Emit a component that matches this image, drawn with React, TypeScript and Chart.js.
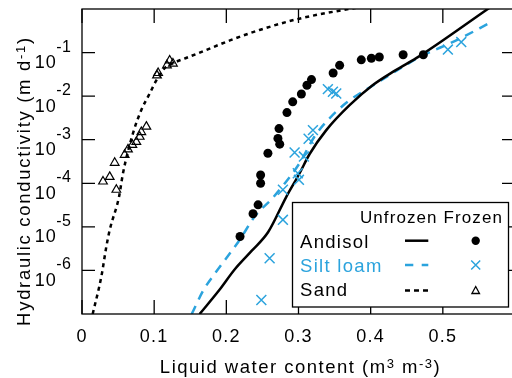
import React, { useEffect, useRef } from 'react';
import { Chart, registerables } from 'chart.js';

Chart.register(...registerables);

// ---- axis ticks ----
const xTickValues = [0, 0.1, 0.2, 0.3, 0.4, 0.5, 0.6];
const xTickLabels = ['0', '0.1', '0.2', '0.3', '0.4', '0.5', ''];
const yTickValues = [1e-6, 1e-5, 1e-4, 1e-3, 1e-2, 1e-1];
const yTickExponents = ['-6', '-5', '-4', '-3', '-2', '-1'];

// ---- unfrozen curves (theta, K) ----
const andisolTheta = [0.163, 0.19, 0.2115, 0.235, 0.258, 0.2831, 0.3015, 0.3154, 0.3385, 0.3708, 0.4031, 0.433, 0.4677, 0.5623, 0.6];
const andisolK = [1.0e-7, 3.5e-7, 1.05e-6, 2.8e-6, 7.6e-6, 4.9e-5, 1.7e-4, 4.7e-4, 1.66e-3, 6.2e-3, 1.8e-2, 3.8e-2, 8.3e-2, 1.0, 2.7];

const siltTheta = [0.152, 0.1686, 0.185, 0.2184, 0.24, 0.262, 0.28, 0.3015, 0.322, 0.343, 0.368, 0.3985, 0.4446, 0.4677, 0.5186, 0.567];
const siltK = [1.0e-7, 3.6e-7, 8.9e-7, 5.0e-6, 1.8e-5, 4.2e-5, 9.5e-5, 2.9e-4, 1.17e-3, 3.1e-3, 7.4e-3, 1.58e-2, 4.7e-2, 7.9e-2, 0.19, 0.5];

const sandTheta = [0.0148, 0.0268, 0.0337, 0.0384, 0.0513, 0.0568, 0.0706, 0.0822, 0.0938, 0.103, 0.1145, 0.125, 0.145, 0.16, 0.205, 0.246, 0.301, 0.37, 0.4];
const sandK = [1.0e-7, 7.2e-7, 3.5e-6, 8.5e-6, 4.9e-5, 1.7e-4, 1.4e-3, 4.8e-3, 1.15e-2, 2.3e-2, 4.4e-2, 5.6e-2, 7.6e-2, 9.5e-2, 0.19, 0.33, 0.6, 1.0, 1.2];

// ---- frozen measurements ----
const andisolFrozenTheta = [0.219, 0.237, 0.244, 0.2475, 0.2475, 0.2576, 0.2715, 0.274, 0.273, 0.284, 0.292, 0.304, 0.3117, 0.318, 0.348, 0.357, 0.387, 0.401, 0.412, 0.445, 0.473];
const andisolFrozenK = [6.0e-6, 2.0e-5, 3.2e-5, 1.0e-4, 1.55e-4, 4.9e-4, 1.07e-3, 7.9e-4, 1.8e-3, 4.2e-3, 7.4e-3, 1.12e-2, 1.78e-2, 2.4e-2, 3.4e-2, 5.1e-2, 6.8e-2, 7.4e-2, 7.9e-2, 8.9e-2, 8.9e-2];

const siltFrozenTheta = [0.2485, 0.26, 0.2784, 0.2784, 0.299, 0.3006, 0.2946, 0.3075, 0.314, 0.32, 0.3407, 0.3477, 0.3523, 0.507, 0.5255];
const siltFrozenK = [2.1e-7, 1.9e-6, 1.45e-5, 7.1e-5, 1.7e-4, 1.2e-4, 5.1e-4, 4.1e-4, 1.05e-3, 1.66e-3, 1.45e-2, 1.26e-2, 1.15e-2, 0.117, 0.174];

const sandFrozenTheta = [0.0291, 0.0384, 0.0476, 0.0453, 0.0591, 0.0637, 0.0698, 0.0753, 0.08, 0.0822, 0.0892, 0.1039, 0.1055, 0.1177, 0.1215, 0.126];
const sandFrozenK = [1.1e-4, 1.4e-4, 7.1e-5, 2.95e-4, 4.5e-4, 6.0e-4, 7.6e-4, 8.9e-4, 1.17e-3, 1.5e-3, 2.0e-3, 3.0e-2, 3.4e-2, 5.1e-2, 6.6e-2, 5.6e-2];

const FONT = '"Liberation Sans", Arial, Helvetica, sans-serif';
const BLUE = '#2ba3dd';

const pts = (xs: number[], ys: number[]) => xs.map((x, i) => ({ x, y: ys[i] }));

type Part = { t: string; sup?: boolean };

function drawRich(ctx: CanvasRenderingContext2D, parts: Part[], x: number, baseline: number, align: 'left' | 'center' | 'right', size: number, supSize: number, supRise: number, spacing: number) {
  (ctx as any).letterSpacing = spacing + 'px';
  const widths = parts.map((p) => {
    ctx.font = `${p.sup ? supSize : size}px ${FONT}`;
    return ctx.measureText(p.t).width;
  });
  const total = widths.reduce((a, b) => a + b, 0);
  let cx = align === 'center' ? x - total / 2 : align === 'right' ? x - total : x;
  ctx.textAlign = 'left';
  ctx.textBaseline = 'alphabetic';
  parts.forEach((p, i) => {
    ctx.font = `${p.sup ? supSize : size}px ${FONT}`;
    ctx.fillText(p.t, cx, p.sup ? baseline - supRise : baseline);
    cx += widths[i];
  });
  (ctx as any).letterSpacing = '0px';
}

const framePlugin = {
  id: 'frame',
  afterDraw(chart: any) {
    const { ctx, chartArea: a, scales } = chart;
    const xs = scales.x;
    const ys = scales.y;
    ctx.save();
    ctx.strokeStyle = '#000';
    ctx.fillStyle = '#000';
    ctx.lineWidth = 1.3;
    ctx.setLineDash([]);
    ctx.strokeRect(a.left, a.top, a.right - a.left, a.bottom - a.top);
    ctx.beginPath();
    xTickValues.forEach((v) => {
      const px = xs.getPixelForValue(v);
      ctx.moveTo(px, a.bottom);
      ctx.lineTo(px, a.bottom - 14);
      ctx.moveTo(px, a.top);
      ctx.lineTo(px, a.top + 14);
    });
    yTickValues.forEach((v) => {
      const py = ys.getPixelForValue(v);
      ctx.moveTo(a.left, py);
      ctx.lineTo(a.left + 13, py);
      ctx.moveTo(a.right, py);
      ctx.lineTo(a.right - 13, py);
    });
    ctx.stroke();

    // x tick labels
    xTickValues.forEach((v, i) => {
      const px = xs.getPixelForValue(v);
      drawRich(ctx, [{ t: xTickLabels[i] }], px, 341.5, 'center', 18, 13, 0, 1.2);
    });
    // y tick labels 10^n
    yTickValues.forEach((v, i) => {
      const py = ys.getPixelForValue(v);
      (ctx as any).letterSpacing = '0.5px';
      ctx.font = `16px ${FONT}`;
      const sw = ctx.measureText(yTickExponents[i]).width;
      ctx.textAlign = 'right';
      ctx.textBaseline = 'alphabetic';
      ctx.fillText(yTickExponents[i], 71.5, py - 1);
      (ctx as any).letterSpacing = '1px';
      ctx.font = `18px ${FONT}`;
      ctx.fillText('10', 71.5 - sw + 0.5, py + 15.5);
      (ctx as any).letterSpacing = '0px';
    });

    // axis titles
    drawRich(ctx, [{ t: 'Liquid water content (m' }, { t: '3', sup: true }, { t: ' m' }, { t: '-3', sup: true }, { t: ')' }], (a.left + a.right) / 2 + 2, 373, 'center', 18.5, 13, 5, 1.5);
    ctx.save();
    ctx.translate(30, 181);
    ctx.rotate(-Math.PI / 2);
    drawRich(ctx, [{ t: 'Hydraulic conductivity (m d' }, { t: '-1', sup: true }, { t: ')' }], 0, 0, 'center', 18.5, 13, 5, 1.7);
    ctx.restore();

    // legend
    const L = 292.5, T = 202.5, W = 216, H = 104.5;
    ctx.fillStyle = '#fff';
    ctx.fillRect(L, T, W, H);
    ctx.strokeStyle = '#000';
    ctx.lineWidth = 1.3;
    ctx.strokeRect(L, T, W, H);
    ctx.fillStyle = '#000';
    drawRich(ctx, [{ t: 'Unfrozen Frozen' }], 503, 223, 'right', 17, 13, 0, 1.1);
    const rows = [
      { label: 'Andisol', color: '#000', y: 248 },
      { label: 'Silt loam', color: BLUE, y: 272 },
      { label: 'Sand', color: '#000', y: 296 },
    ];
    rows.forEach((r) => {
      ctx.fillStyle = r.color;
      drawRich(ctx, [{ t: r.label }], 300, r.y, 'left', 18.5, 13, 0, 1.3);
    });
    ctx.lineWidth = 2.5;
    ctx.lineCap = 'butt';
    ctx.strokeStyle = '#000';
    ctx.setLineDash([]);
    ctx.beginPath(); ctx.moveTo(405, 240.7); ctx.lineTo(428.3, 240.7); ctx.stroke();
    ctx.strokeStyle = BLUE;
    ctx.setLineDash([8.3, 8.4]);
    ctx.beginPath(); ctx.moveTo(405, 265); ctx.lineTo(428.3, 265); ctx.stroke();
    ctx.strokeStyle = '#000';
    ctx.setLineDash([5, 4]);
    ctx.beginPath(); ctx.moveTo(405, 290.5); ctx.lineTo(428.3, 290.5); ctx.stroke();
    ctx.setLineDash([]);
    const mx = 475.7;
    ctx.fillStyle = '#000';
    ctx.beginPath(); ctx.arc(mx, 240.7, 4.2, 0, Math.PI * 2); ctx.fill();
    ctx.strokeStyle = BLUE;
    ctx.lineWidth = 1.5;
    ctx.beginPath();
    ctx.moveTo(mx - 4.5, 265 - 4.5); ctx.lineTo(mx + 4.5, 265 + 4.5);
    ctx.moveTo(mx - 4.5, 265 + 4.5); ctx.lineTo(mx + 4.5, 265 - 4.5);
    ctx.stroke();
    ctx.strokeStyle = '#000';
    ctx.lineWidth = 1.3;
    ctx.beginPath();
    ctx.moveTo(mx, 286.5); ctx.lineTo(mx + 3.8, 293.5); ctx.lineTo(mx - 3.8, 293.5); ctx.closePath();
    ctx.stroke();
    ctx.restore();
  },
};

export default function App() {
  const ref = useRef<HTMLCanvasElement>(null);
  useEffect(() => {
    const chart = new Chart(ref.current as HTMLCanvasElement, {
      type: 'scatter',
      data: {
        datasets: [
          {
            label: 'Andisol frozen',
            data: pts(andisolFrozenTheta, andisolFrozenK),
            showLine: false,
            pointStyle: 'circle',
            pointRadius: 4.5,
            pointBackgroundColor: '#000',
            pointBorderColor: '#000',
            pointBorderWidth: 0,
          },
          {
            label: 'Silt loam frozen',
            data: pts(siltFrozenTheta, siltFrozenK),
            showLine: false,
            pointStyle: 'crossRot',
            pointRadius: 7,
            pointBorderColor: BLUE,
            pointBorderWidth: 1.5,
          },
          {
            label: 'Sand frozen',
            data: pts(sandFrozenTheta, sandFrozenK),
            showLine: false,
            pointStyle: 'triangle',
            pointRadius: 5,
            pointBackgroundColor: 'rgba(0,0,0,0)',
            pointBorderColor: '#000',
            pointBorderWidth: 1.2,
          },
          {
            label: 'Andisol',
            data: pts(andisolTheta, andisolK),
            showLine: true,
            borderColor: '#000',
            borderWidth: 2.5,
            pointRadius: 0,
            cubicInterpolationMode: 'monotone',
          },
          {
            label: 'Silt loam',
            data: pts(siltTheta, siltK),
            showLine: true,
            borderColor: BLUE,
            borderWidth: 2.5,
            borderDash: [9, 7],
            pointRadius: 0,
            cubicInterpolationMode: 'monotone',
          },
          {
            label: 'Sand',
            data: pts(sandTheta, sandK),
            showLine: true,
            borderColor: '#000',
            borderWidth: 2.5,
            borderDash: [4, 4],
            pointRadius: 0,
            cubicInterpolationMode: 'monotone',
          },
        ],
      },
      options: {
        animation: false,
        responsive: false,
        devicePixelRatio: 1,
        layout: { padding: { top: 9, right: 15, left: 0, bottom: 0 } },
        plugins: { legend: { display: false }, tooltip: { enabled: false } },
        scales: {
          x: {
            type: 'linear',
            min: 0,
            max: 0.6,
            grid: { display: false },
            border: { display: false },
            ticks: { display: false },
            afterFit: (s: any) => { s.height = 64; },
          },
          y: {
            type: 'logarithmic',
            min: 1e-7,
            max: 1,
            grid: { display: false },
            border: { display: false },
            ticks: { display: false },
            afterFit: (s: any) => { s.width = 82; },
          },
        },
      },
      plugins: [framePlugin],
    } as any);
    return () => chart.destroy();
  }, []);
  return (
    <div style={{ position: 'absolute', left: 0, top: 0, width: 512, height: 378, overflow: 'hidden', background: '#fff' }}>
      <canvas ref={ref} width={530} height={378} style={{ display: 'block', width: 530, height: 378 }} />
    </div>
  );
}
